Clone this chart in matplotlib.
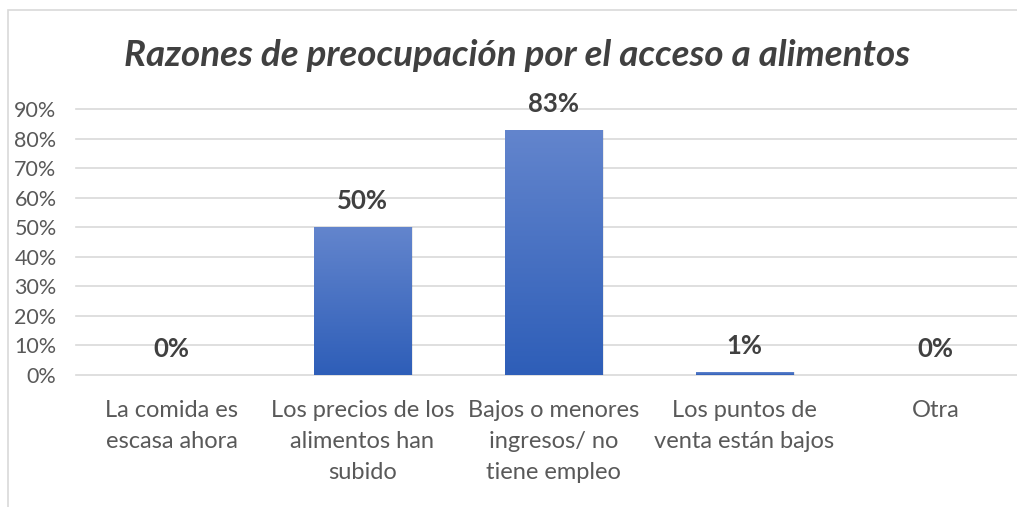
import matplotlib
matplotlib.use("Agg")
import matplotlib.pyplot as plt
import matplotlib.patches as patches
import numpy as np

categories = [
    "La comida es\nescasa ahora",
    "Los precios de los\nalimentos han\nsubido",
    "Bajos o menores\ningresos/ no\ntiene empleo",
    "Los puntos de\nventa están bajos",
    "Otra",
]
values = [0, 50, 83, 1, 0]
y_ticks = [0, 10, 20, 30, 40, 50, 60, 70, 80, 90]
title = "Razones de preocupación por el acceso a alimentos"

FONT = ["Lato", "DejaVu Sans"]
plt.rcParams["font.family"] = FONT

fig = plt.figure(figsize=(10.17, 5.07), dpi=100)
fig.patch.set_facecolor("white")

# chart frame, running off the right and bottom edges
frame = patches.Rectangle((8 / 1017, -0.1), 1.2, 1 - 10 / 507 + 0.1,
                          transform=fig.transFigure, fill=False,
                          edgecolor="#d9d9d9", linewidth=1.2)
fig.patches.append(frame)

ax = fig.add_axes([76 / 1017, 1 - 375 / 507, 955 / 1017, (375 - 109) / 507])
x = np.arange(len(categories))
bar_w = 0.51

for yt in y_ticks:
    ax.axhline(yt, color="#d9d9d9", linewidth=1.2, zorder=0, clip_on=False)

# gradient-filled bars
grad = np.linspace(0, 1, 256).reshape(-1, 1)
cmap = matplotlib.colors.LinearSegmentedColormap.from_list(
    "bar", ["#2e5eb8", "#6385cd"])
bars = ax.bar(x, values, width=bar_w, color="none", edgecolor="none", zorder=2)
for b, v in zip(bars, values):
    if v <= 0:
        continue
    x0 = b.get_x()
    # soft shadow
    sh = patches.Rectangle((x0 + 0.008, 0), bar_w, v, facecolor="#000000",
                           alpha=0.08, edgecolor="none", zorder=1.5)
    ax.add_patch(sh)
    im = ax.imshow(grad, extent=(x0, x0 + bar_w, 0, v), origin="lower",
                   cmap=cmap, aspect="auto", zorder=2,
                   vmin=0, vmax=1)
    im.set_clip_path(b)
    if v < 3:
        b.set_facecolor("#4a74c6")

ax.set_xlim(-0.5, len(categories) - 0.5)
ax.set_ylim(0, 90)

for xi, v in zip(x, values):
    ax.annotate(f"{v}%", (xi, v), xytext=(0, 26), textcoords="offset pixels",
                ha="center", va="center", fontsize=18.5, fontweight="bold",
                color="#404040", annotation_clip=False)

ax.set_yticks(y_ticks)
ax.set_yticklabels([f"{t}%" for t in y_ticks], fontsize=15.5, color="#595959")
ax.set_xticks(x)
ax.set_xticklabels(categories, fontsize=17, color="#595959",
                   linespacing=1.58, va="top")
ax.tick_params(axis="both", length=0)
ax.tick_params(axis="x", pad=18)
ax.tick_params(axis="y", pad=14)
for s in ax.spines.values():
    s.set_visible(False)
ax.set_facecolor("none")

fig.text(517 / 1017, 1 - 56 / 507, title, ha="center", va="center",
         fontsize=26.5, fontweight="bold", fontstyle="italic", color="#404040")

fig.savefig("out.png", dpi=100, facecolor="white")
